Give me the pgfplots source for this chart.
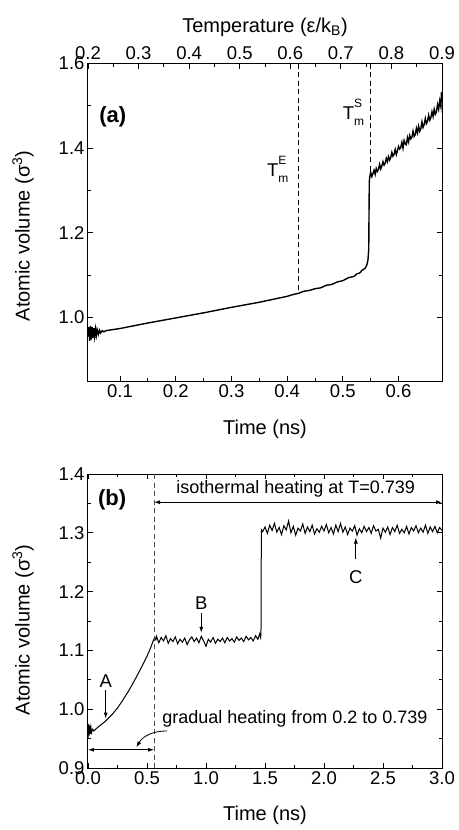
\documentclass[border=0pt]{standalone}
\usepackage{fontspec}
\setmainfont{Liberation Sans}
\usepackage{amsmath}
\usepackage{pgfplots}
\pgfplotsset{compat=1.18}
\usetikzlibrary{arrows.meta}
\newcommand{\Tm}[1]{T\makebox[0pt][l]{\raisebox{0.62em}{\fontsize{12}{12}\selectfont #1}}\raisebox{-0.32em}{\fontsize{12}{12}\selectfont m}}
\pgfplotsset{
  common/.style={
    scale only axis, width=354pt,
    tick align=inside,
    major tick length=5pt, minor tick length=3pt,
    every tick/.style={line width=0.8pt, black},
    axis line style={line width=1pt},
    /pgf/number format/assume math mode=true,
    xticklabel style={font=\fontsize{18.5}{20}\selectfont,/pgf/number format/.cd,fixed,fixed zerofill,precision=1},
    yticklabel style={font=\fontsize{18.5}{20}\selectfont,/pgf/number format/.cd,fixed,fixed zerofill,precision=1},
    label style={font=\fontsize{20}{24}\selectfont},
  },
}
\begin{document}
\begin{tikzpicture}
\path (-88pt,381pt) rectangle (368pt,-449pt);
% ---------------- panel (a) ----------------
\begin{axis}[common, height=317.5pt, at={(0,0)}, anchor=south west,
  xmin=0.0425, xmax=0.678, ymin=0.85, ymax=1.6,
  xtick={0.1,0.2,0.3,0.4,0.5,0.6}, minor x tick num=1, xtick pos=left,
  ytick={1.0,1.2,1.4,1.6}, minor y tick num=1,
  xlabel={Time (ns)},
  xlabel style={at={(axis description cs:0.5,-0.167)}, anchor=base},
  ylabel={Atomic volume (σ\textsuperscript{3})},
  ylabel style={at={(axis description cs:-0.1836,0.457)}, anchor=center},
]
\addplot[black, line width=1.4pt] coordinates {
(0.0425,0.955) (0.0440,0.978) (0.0455,0.945) (0.0470,0.980) (0.0485,0.948)
(0.0500,0.977) (0.0515,0.952) (0.0530,0.975) (0.0545,0.955) (0.0560,0.973)
(0.0575,0.958) (0.0590,0.971) (0.0610,0.960) (0.0630,0.970) (0.0650,0.963)
(0.0680,0.969) (0.0710,0.966) (0.0750,0.969) (0.0800,0.970)
(0.10,0.974) (0.15,0.987) (0.20,0.999) (0.25,1.011) (0.30,1.024) (0.35,1.036)
(0.40,1.050) (0.41,1.054) (0.42,1.057) (0.43,1.062) (0.44,1.064) (0.45,1.068)
(0.46,1.070) (0.47,1.076) (0.48,1.078) (0.49,1.084) (0.50,1.087) (0.51,1.094)
(0.52,1.097) (0.525,1.103) (0.53,1.105) (0.535,1.112) (0.54,1.116) (0.543,1.124)
(0.545,1.135) (0.5465,1.16) (0.547,1.25) (0.5475,1.32)
(0.548,1.330) (0.550,1.343) (0.552,1.333) (0.554,1.340) (0.556,1.348)
(0.558,1.338) (0.560,1.352) (0.562,1.345) (0.564,1.350) (0.566,1.362)
(0.568,1.351) (0.570,1.358) (0.572,1.368) (0.574,1.360) (0.576,1.365)
(0.578,1.376) (0.580,1.368) (0.582,1.380) (0.584,1.372) (0.586,1.378)
(0.588,1.390) (0.590,1.381) (0.592,1.386) (0.594,1.397) (0.596,1.385)
(0.598,1.394) (0.600,1.404) (0.602,1.398) (0.604,1.402) (0.606,1.414)
(0.608,1.400) (0.610,1.418) (0.612,1.410) (0.614,1.408) (0.616,1.425)
(0.618,1.415) (0.620,1.430) (0.622,1.422) (0.624,1.426) (0.626,1.440)
(0.628,1.428) (0.630,1.432) (0.632,1.447) (0.634,1.436) (0.636,1.452)
(0.638,1.440) (0.640,1.446) (0.642,1.462) (0.644,1.449) (0.646,1.456)
(0.648,1.470) (0.650,1.458) (0.652,1.464) (0.654,1.478) (0.656,1.466)
(0.658,1.472) (0.660,1.486) (0.662,1.475) (0.664,1.492) (0.666,1.480)
(0.668,1.486) (0.670,1.503) (0.672,1.492) (0.674,1.512) (0.676,1.498)
(0.677,1.532) (0.678,1.515)
};
\addplot[black, line width=0.8pt, dash pattern=on 5pt off 3.5pt] coordinates {(0.4205,1.6) (0.4205,1.056)};
\addplot[black, line width=0.8pt, dash pattern=on 5pt off 3.5pt] coordinates {(0.549,1.6) (0.549,1.34)};
\node[anchor=west, font=\bfseries\fontsize{22}{24}\selectfont] at (axis cs:0.0565,1.474) {(a)};
\node[font=\fontsize{18.5}{20}\selectfont] at (axis cs:0.383,1.35) {\Tm{E}};
\node[font=\fontsize{18.5}{20}\selectfont] at (axis cs:0.519,1.485) {\Tm{S}};
\end{axis}
% top temperature axis
\begin{axis}[common, height=317.5pt, at={(0,0)}, anchor=south west,
  xmin=0.2, xmax=0.9, ymin=0.85, ymax=1.6,
  axis x line=top, hide y axis,
  x axis line style={-},
  xtick align=inside,
  xtick={0.2,0.3,...,0.9}, minor x tick num=1,
  xlabel={Temperature (ε/k\textsubscript{B})},
  xlabel style={font=\fontsize{20}{24}\selectfont, at={(axis description cs:0.5,1.099)}, anchor=base},
]
\addplot[draw=none] coordinates {(0.5,1.0)};
\end{axis}
% ---------------- panel (b) ----------------
\begin{axis}[common, height=294pt, at={(0,-93pt)}, anchor=north west,
  xmin=0, xmax=3, ymin=0.9, ymax=1.4,
  xtick={0,0.5,...,3}, minor x tick num=1,
  ytick={0.9,1.0,...,1.4}, minor y tick num=1,
  xlabel={Time (ns)},
  xlabel style={at={(axis description cs:0.5,-0.180)}, anchor=base},
  ylabel={Atomic volume (σ\textsuperscript{3})},
  ylabel style={at={(axis description cs:-0.1836,0.47)}, anchor=center},
]
\addplot[black, line width=1pt] coordinates {
(0.000,0.950) (0.005,0.975) (0.010,0.955) (0.015,0.972) (0.020,0.958)
(0.025,0.969) (0.030,0.960) (0.040,0.966) (0.050,0.963) (0.070,0.967)
(0.10,0.972) (0.15,0.980) (0.20,0.990) (0.25,1.002) (0.30,1.017)
(0.35,1.033) (0.40,1.051) (0.45,1.070) (0.50,1.090) (0.53,1.104)
(0.55,1.115) (0.565,1.122) (0.575,1.118)
(0.58,1.124) (0.60,1.113) (0.62,1.122) (0.64,1.116) (0.66,1.125)
(0.68,1.112) (0.70,1.120) (0.72,1.115) (0.74,1.123) (0.76,1.111)
(0.78,1.119) (0.80,1.114) (0.82,1.121) (0.84,1.110) (0.86,1.118)
(0.88,1.123) (0.90,1.115) (0.92,1.121) (0.94,1.113) (0.96,1.124)
(0.98,1.116) (1.00,1.107) (1.02,1.119) (1.04,1.114) (1.06,1.122)
(1.08,1.112) (1.10,1.119) (1.12,1.115) (1.14,1.121) (1.16,1.113)
(1.18,1.122) (1.20,1.116) (1.22,1.120) (1.24,1.114) (1.26,1.123)
(1.28,1.117) (1.30,1.121) (1.32,1.115) (1.34,1.124) (1.36,1.118)
(1.38,1.122) (1.40,1.116) (1.42,1.125) (1.44,1.119) (1.455,1.128)
(1.463,1.122) (1.466,1.13) (1.468,1.25) (1.470,1.305)
(1.48,1.302) (1.50,1.310) (1.52,1.299) (1.54,1.313) (1.56,1.304)
(1.58,1.316) (1.60,1.301) (1.62,1.309) (1.64,1.297) (1.66,1.312)
(1.68,1.305) (1.70,1.320) (1.72,1.300) (1.74,1.311) (1.76,1.296)
(1.78,1.308) (1.80,1.303) (1.82,1.315) (1.84,1.299) (1.86,1.310)
(1.88,1.302) (1.90,1.313) (1.92,1.298) (1.94,1.307) (1.96,1.301)
(1.98,1.311) (2.00,1.303) (2.02,1.314) (2.04,1.300) (2.06,1.309)
(2.08,1.298) (2.10,1.313) (2.12,1.302) (2.14,1.316) (2.16,1.301)
(2.18,1.310) (2.20,1.297) (2.22,1.308) (2.24,1.303) (2.26,1.312)
(2.28,1.296) (2.30,1.307) (2.32,1.300) (2.34,1.311) (2.36,1.302)
(2.38,1.309) (2.40,1.299) (2.42,1.312) (2.44,1.303) (2.46,1.306)
(2.48,1.291) (2.50,1.308) (2.52,1.301) (2.54,1.310) (2.56,1.297)
(2.58,1.309) (2.60,1.302) (2.62,1.313) (2.64,1.299) (2.66,1.306)
(2.68,1.300) (2.70,1.311) (2.72,1.298) (2.74,1.309) (2.76,1.303)
(2.78,1.312) (2.80,1.300) (2.82,1.308) (2.84,1.301) (2.86,1.313)
(2.88,1.299) (2.90,1.310) (2.92,1.302) (2.94,1.311) (2.96,1.300)
(2.98,1.309) (3.00,1.304)
};
\addplot[black!70, line width=0.8pt, dash pattern=on 5pt off 3.5pt] coordinates {(0.56,0.9) (0.56,1.4)};
\draw[{Latex[length=6pt,width=4pt]}-{Latex[length=6pt,width=4pt]}, line width=0.8pt] (axis cs:0.56,1.352) -- (axis cs:3.0,1.352);
\draw[{Latex[length=6pt,width=4pt]}-{Latex[length=6pt,width=4pt]}, line width=0.8pt] (axis cs:0,0.931) -- (axis cs:0.56,0.931);
\draw[-{Latex[length=6pt,width=4pt]}, line width=0.8pt] (axis cs:0.67,0.963) to[out=180,in=60] (axis cs:0.41,0.935);
\node[font=\fontsize{18}{20}\selectfont] at (axis cs:1.76,1.375) {isothermal heating at T=0.739};
\node[anchor=west, font=\fontsize{18}{20}\selectfont] at (axis cs:0.60,0.984) {gradual heating from 0.2 to 0.739};
\node[anchor=west, font=\bfseries\fontsize{22}{24}\selectfont] at (axis cs:0.055,1.356) {(b)};
\node[font=\fontsize{18.5}{20}\selectfont] at (axis cs:0.15,1.047) {A};
\draw[-{Latex[length=6pt,width=4pt]}, line width=0.8pt] (axis cs:0.15,1.033) -- (axis cs:0.15,0.984);
\node[font=\fontsize{18.5}{20}\selectfont] at (axis cs:0.96,1.181) {B};
\draw[-{Latex[length=6pt,width=4pt]}, line width=0.8pt] (axis cs:0.96,1.164) -- (axis cs:0.96,1.13);
\node[font=\fontsize{18.5}{20}\selectfont] at (axis cs:2.27,1.225) {C};
\draw[-{Latex[length=6pt,width=4pt]}, line width=0.8pt] (axis cs:2.27,1.255) -- (axis cs:2.27,1.292);
\end{axis}
\end{tikzpicture}
\end{document}
